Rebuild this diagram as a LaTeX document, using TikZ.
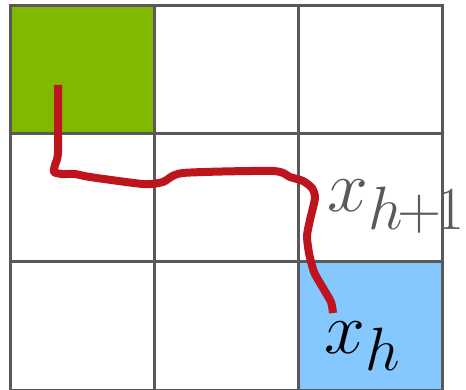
\documentclass[tikz,border=0pt]{standalone}
\usepackage{amsmath,amssymb}
\usepackage{xcolor}
\usepackage{tikz}
\usetikzlibrary{positioning, calc}
\definecolor{cGrid}{RGB}{89,89,89}
\definecolor{cStart}{RGB}{128,185,0}
\definecolor{cGoal}{RGB}{133,200,255}
\definecolor{cPath}{RGB}{190,20,30}

\begin{document}
\begin{tikzpicture}[x=1pt, y=-1pt,
                    gridline/.style={draw=cGrid, line width=3pt},
                    walk/.style={draw=cPath, line width=8pt, line join=round, line cap=butt},
                    statelabel/.style={inner sep=0pt, font=\Huge, scale=2.95, transform shape}]
    \useasboundingbox (0,0) rectangle (466,390);

    % Cell Fills
    \fill[cStart] (10,6) rectangle (154,134);
    \fill[cGoal]  (298,262) rectangle (442,390);

    % Grid Lines
    \foreach \gx in {10,154,298,442}
        \draw[gridline] (\gx,6) -- (\gx,392);
    \foreach \gy in {6,134,262,390}
        \draw[gridline] (8.5,\gy) -- (443.5,\gy);

    % Trajectory
    \draw[walk] plot[smooth, tension=0.4] coordinates {
        (58,85) (58,152) (55,165) (54,172) (62,174) (75,174) (90,177)
        (143,184) (163,182) (183,173) (273,171) (290,177) (303,181)
        (312,188) (315,198) (310,220) (307,236) (309,253) (314,272)
        (323,288) (331,302) (333,313)};

    % State Labels
    \node[statelabel, text=cGrid, anchor=base west] (xnext) at (327,212) {$x_{h\mkern-1.5mu+\mkern-1.5mu1}$};
    \node[statelabel, text=black, anchor=base west] (xcur) at (324,353) {$x_h$};
\end{tikzpicture}
\end{document}
